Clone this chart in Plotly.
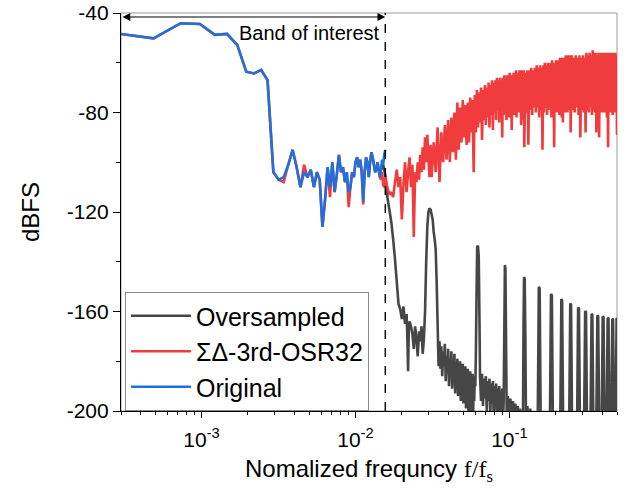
import math
import plotly.graph_objects as go

N_FFT = 4096  # FFT length; bin k -> normalized frequency k / N_FFT

# ---------------- Original (in-band, bins 1..64) ----------------
orig_k = list(range(1, 65))
orig_db = [-47.7, -50.2, -44.1, -44.4, -48.8, -48.4, -52.9, -63.6, -64.3, -62.9,
           -67.0, -104, -107, -106, -101, -95, -102, -110, -104, -106,
           -103, -110, -104, -107, -126, -115, -102, -110, -100, -112,
           -105, -97, -104, -102, -108, -104, -112, -110, -104, -106,
           -100, -98, -102, -99, -104, -116, -104, -98, -100, -106,
           -100, -96, -98, -101, -104, -103, -100, -103, -106, -103,
           -99, -101, -97, -95]

# ---------------- Sigma-Delta 3rd order OSR32 ----------------
sd_in_db = [-47.7, -50.2, -44.1, -44.4, -48.8, -48.4, -52.9, -63.6, -64.3, -62.9,
            -67.0, -104, -107, -108, -101, -95, -102, -110, -101, -106,
            -103, -110, -104, -107, -126, -115, -102, -114, -100, -112,
            -105, -97, -104, -102, -108, -104, -118, -110, -104, -106,
            -100, -98, -102, -99, -104, -117, -104, -98, -100, -106,
            -100, -96, -98, -101, -104, -103, -100, -103, -106, -107,
            -104, -109, -110, -106]
sd_out_k = [66, 68, 70, 72, 74, 76, 78, 80, 82, 84, 86, 88, 90, 92, 94, 96,
            98, 100, 102, 104, 106, 108, 110, 112, 114, 116, 118, 120, 122, 124, 126, 128,
            132, 136, 140, 144, 148, 152, 156, 160, 164, 168, 172, 176, 180, 184, 188, 192,
            196, 200, 204, 208, 212, 216, 220, 224, 228, 232, 236, 240, 244, 248, 252, 256,
            260, 264, 268, 272, 276, 280, 284, 288, 292, 296, 300, 304, 308, 312, 316, 320,
            324, 328, 332, 336, 340, 344, 348, 352, 356, 360, 364, 368, 372, 376, 380, 384,
            388, 392, 396, 400, 404, 408, 412, 416, 420, 424, 428, 432, 436, 440, 444, 448,
            452, 456, 460, 464, 468, 472, 476, 480, 484, 488, 492, 496, 500, 504, 508, 512,
            520, 528, 536, 544, 552, 560, 568, 576, 584, 592, 600, 608, 616, 624, 632, 640,
            648, 656, 664, 672, 680, 688, 696, 704, 712, 720, 728, 736, 744, 752, 760, 768,
            776, 784, 792, 800, 808, 816, 824, 832, 840, 848, 856, 864, 872, 880, 888, 896,
            904, 912, 920, 928, 936, 944, 952, 960, 968, 976, 984, 992, 1000, 1008, 1016, 1024,
            1040, 1056, 1072, 1088, 1104, 1120, 1136, 1152, 1168, 1184, 1200, 1216, 1232, 1248, 1264, 1280,
            1296, 1312, 1328, 1344, 1360, 1376, 1392, 1408, 1424, 1440, 1456, 1472, 1488, 1504, 1520, 1536,
            1552, 1568, 1584, 1600, 1616, 1632, 1648, 1664, 1680, 1696, 1712, 1728, 1744, 1760, 1776, 1792,
            1808, 1824, 1840, 1856, 1872, 1888, 1904, 1920, 1936, 1952, 1968, 1984, 2000, 2016, 2032, 2048]
sd_out_db = [-110, -113, -112, -114, -108, -103, -110, -106, -123, -109, -100, -112, -104, -98, -110, -101,
             -130, -104, -108, -100, -107, -97, -104, -94, -103, -90, -100, -89, -99, -106, -93, -106,
             -92, -104, -86, -108, -88, -100, -85, -99, -83, -100, -82, -96, -80, -99, -76, -95,
             -78, -92, -75, -90, -77, -93, -76, -92, -74, -88, -75, -104, -73, -88, -71, -86,
             -72, -84, -70, -91, -71, -83, -69, -85, -70, -82, -68, -86, -69, -81, -67, -87,
             -68, -80, -67, -83, -66, -79, -67, -84, -66, -80, -67, -90, -66, -81, -65, -80,
             -67, -83, -65, -79, -66, -82, -64, -80, -66, -87, -65, -79, -64, -81, -65, -78,
             -63, -82, -65, -79, -64, -80, -63, -78, -65, -85, -63, -79, -64, -83, -63, -94,
             -64, -80, -63, -93, -63, -79, -62, -81, -63, -78, -62, -80, -61, -78, -62, -82,
             -61, -79, -62, -95, -61, -80, -60, -78, -61, -81, -60, -79, -61, -78, -60, -82,
             -59, -79, -60, -94, -60, -78, -59, -80, -60, -78, -59, -81, -58, -79, -59, -82,
             -58, -84, -59, -78, -58, -80, -57, -78, -58, -80, -57, -79, -58, -78, -57, -88,
             -57, -79, -58, -80, -57, -78, -58, -81, -57, -90, -58, -79, -57, -80, -58, -88,
             -56, -79, -57, -80, -56, -78, -57, -81, -55, -79, -56, -80, -56, -88, -57, -78,
             -56, -90, -57, -79, -56, -80, -57, -78, -56, -80, -57, -79, -56, -82, -57, -94,
             -56, -79, -57, -80, -56, -78, -57, -81, -56, -79, -57, -80, -56, -78, -57, -89]

# ---------------- Oversampled (out of band) ----------------
ovs_k = [60, 62, 64, 66, 68, 70, 72, 74, 76, 78, 80, 82, 84, 86, 88, 89, 90, 91, 92, 94,
         96, 98, 100, 102, 104, 106, 108, 110, 112, 114, 116, 118, 120, 122, 124, 126, 128, 130,
         132, 134, 136, 138, 140, 142,
         144, 146, 148, 150, 152, 154, 156, 158, 160, 162, 164, 166, 168, 170, 172, 174,
         176, 178, 180, 182, 184, 186, 188, 190, 192, 194, 196, 198, 200, 202, 204, 206,
         208, 210, 212, 214, 216, 218, 220, 222, 224, 226, 228, 230, 232, 234, 236, 238,
         240, 242, 244, 246, 248, 251, 253, 256, 259, 262,
         264, 268, 272, 276, 280, 284, 288, 292, 296, 300, 304, 308, 312, 316, 320, 324,
         328, 332, 336, 340, 344, 348, 352, 356, 360, 364, 368, 372, 376, 380, 383, 386,
         390, 394, 400, 408, 416, 424, 432, 440, 448, 456, 464, 472, 480, 488, 496, 502,
         506, 510, 515, 520, 526, 536, 548, 560, 572, 584, 596, 608, 624, 636, 644, 656,
         749, 763, 773, 787, 874, 891, 901, 918, 999, 1018, 1030, 1049,
         1124, 1145, 1159, 1180, 1248, 1272, 1288, 1312, 1373, 1400, 1416, 1443,
         1498, 1527, 1545, 1574, 1623, 1654, 1674, 1705, 1748, 1781, 1803, 1836,
         1873, 1909, 1931, 1967, 2000, 2036, 2048]
ovs_db = [-103, -101, -105, -114, -119, -124, -131, -139, -148, -157, -159, -163, -158, -165, -161, -170, -184, -167, -164, -166,
          -169, -175, -166, -171, -178, -168, -172, -166, -177, -171, -160, -140, -126, -120, -118.5, -119, -121, -123,
          -128, -131, -135, -148, -165, -182,
          -172, -183, -174, -186, -176, -182, -173, -188, -178, -185, -175, -190, -179, -186, -176, -191,
          -180, -187, -177, -193, -181, -188, -179, -194, -182, -189, -180, -196, -183, -190, -181, -197,
          -184, -191, -182, -199, -185, -192, -183, -200, -186, -193, -184, -202, -187, -195, -185, -203,
          -188, -196, -186, -190, -178, -150, -134, -133.5, -138, -165,
          -186, -196, -185, -198, -187, -195, -186, -200, -188, -196, -187, -201, -189, -197, -188, -203,
          -190, -198, -189, -204, -191, -199, -190, -205, -192, -200, -191, -206, -196, -165, -141.3, -143,
          -175, -205, -194, -203, -195, -206, -196, -208, -197, -210, -198, -212, -199, -212, -201, -205,
          -165, -146.1, -147, -170, -212, -198, -210, -199, -214, -200, -215, -202, -215, -150.1, -150.6, -215,
          -215, -153, -153.5, -215, -215, -155, -155.5, -215, -215, -156.8, -157.2, -215,
          -215, -158.4, -158.8, -215, -215, -159.8, -160.2, -215, -215, -161, -161.3, -215,
          -215, -161.6, -161.9, -215, -215, -162, -162.3, -215, -215, -162.5, -162.8, -215,
          -215, -163, -163.2, -215, -215, -163, -163]

BAND_EDGE = 1 / 64  # fs / (2 * OSR)
X_MIN, X_MAX = 3.0e-4, 0.5

x_ticks = [1e-3, 1e-2, 1e-1]
x_tick_text = ["10<sup>-3</sup>", "10<sup>-2</sup>", "10<sup>-1</sup>"]
x_minor = [m * 10.0 ** e for e in (-4, -3, -2, -1) for m in range(2, 10)]
y_ticks = [-200, -160, -120, -80, -40]
y_tick_text = ["-200", "-160", "-120", "-80", "-40"]

FONT = "Liberation Sans, Arial, sans-serif"

def freqs(ks):
    return [k / N_FFT for k in ks]

fig = go.Figure()
fig.add_trace(go.Scatter(x=freqs(ovs_k), y=ovs_db, mode="lines", name="Oversampled",
                         line=dict(color="#464646", width=2.6, simplify=False)))
fig.add_trace(go.Scatter(x=freqs(orig_k + sd_out_k), y=sd_in_db + sd_out_db, mode="lines",
                         name="ΣΔ-3rd-OSR32", line=dict(color="#f03c3c", width=2.6, simplify=False)))
fig.add_trace(go.Scatter(x=freqs(orig_k), y=orig_db, mode="lines", name="Original",
                         line=dict(color="#1f6fdc", width=2.6, simplify=False)))

# band-edge dashed line
fig.add_shape(type="line", xref="x", yref="paper", x0=BAND_EDGE, x1=BAND_EDGE, y0=0, y1=1,
              line=dict(color="black", width=1.4, dash="dash"))
# frame
fig.add_shape(type="rect", xref="paper", yref="paper", x0=0, x1=1, y0=0, y1=1,
              line=dict(color="#9a9a9a", width=1), layer="below")

# double arrow for band of interest
fig.add_annotation(x=math.log10(BAND_EDGE), y=-41.6, ax=math.log10(X_MIN), ay=-41.6,
                   xref="x", yref="y", axref="x", ayref="y", text="", showarrow=True,
                   arrowhead=2, startarrowhead=2, arrowside="end+start", arrowsize=1.3,
                   startarrowsize=1.3, arrowwidth=1.2, arrowcolor="black", standoff=0, startstandoff=0)
fig.add_annotation(x=0.381, y=0.950, xref="paper", yref="paper", text="Band of interest",
                   xanchor="center", yanchor="middle",
                   showarrow=False, font=dict(family=FONT, size=20, color="black"))

fig.update_layout(
    width=633, height=492, autosize=False,
    margin=dict(l=121, r=16, t=13, b=81),
    paper_bgcolor="white", plot_bgcolor="white",
    font=dict(family=FONT, color="black"),
    showlegend=True,
    legend=dict(x=0.008, y=0.0, xanchor="left", yanchor="bottom",
                bgcolor="white", bordercolor="#8a8a8a", borderwidth=1,
                font=dict(family=FONT, size=25, color="black"), itemwidth=60,
                tracegroupgap=0),
    xaxis=dict(type="log", range=[math.log10(X_MIN), math.log10(X_MAX)], automargin=False,
               tickmode="array", tickvals=x_ticks, ticktext=x_tick_text,
               ticks="outside", ticklen=6, tickwidth=1.2, tickcolor="black",
               ticklabelstandoff=4, ticklabeloverflow="allow",
               showline=True, linecolor="black", linewidth=1.2, showgrid=False, zeroline=False,
               tickfont=dict(family=FONT, size=21),
               minor=dict(tickmode="array", tickvals=x_minor, ticks="outside", ticklen=3,
                          tickwidth=1, tickcolor="black", showgrid=False),
               title=dict(text="Nomalized frequncy <span style='font-family:Liberation Serif'>f/f<sub>s</sub></span>",
                          font=dict(family=FONT, size=24), standoff=9)),
    yaxis=dict(range=[-200, -40], automargin=False, tickmode="array", tickvals=y_ticks, ticktext=y_tick_text,
               ticks="outside", ticklen=7, tickwidth=1.2, tickcolor="black",
               ticklabeloverflow="allow",
               showline=True, linecolor="black", linewidth=1.2, showgrid=False, zeroline=False,
               tickfont=dict(family=FONT, size=21),
               minor=dict(dtick=20, ticks="outside", ticklen=3.5, tickwidth=1, tickcolor="black",
                          showgrid=False),
               title=dict(text="dBFS", font=dict(family=FONT, size=24), standoff=20)),
)

fig.write_html("out.html", config={"displayModeBar": False},
               post_script="document.body.style.margin='0px';")
